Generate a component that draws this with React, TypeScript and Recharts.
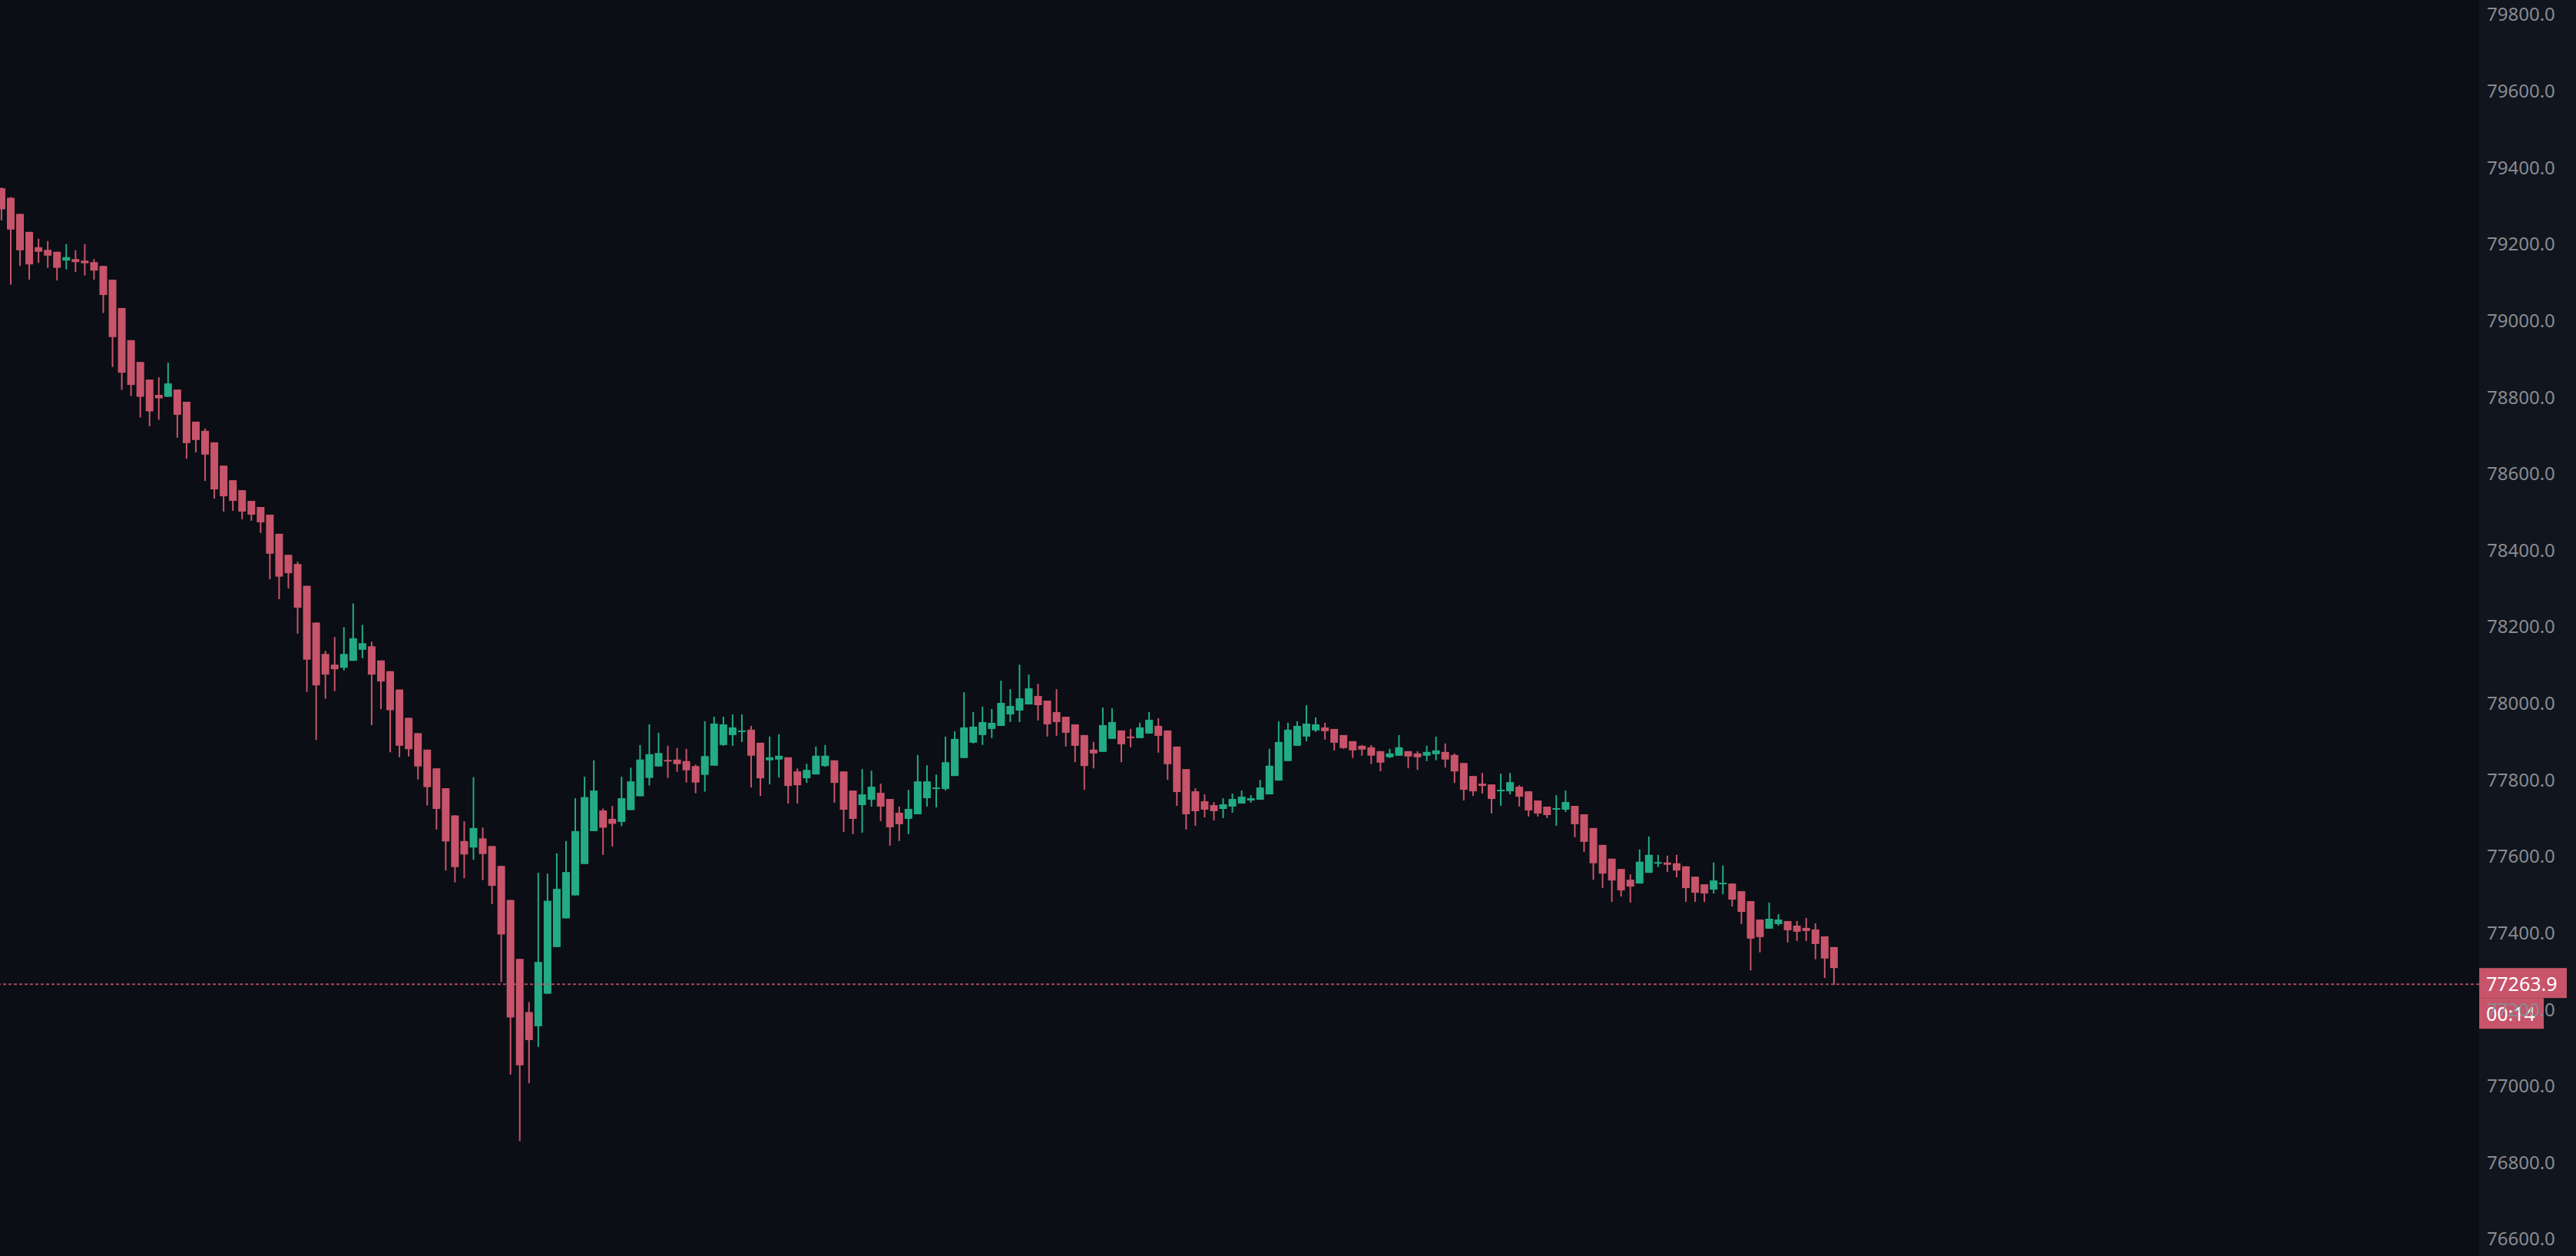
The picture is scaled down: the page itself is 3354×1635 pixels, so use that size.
import React from 'react';
import { ComposedChart, Bar, XAxis, YAxis, ReferenceLine } from 'recharts';

// candle values, index 0 = leftmost candle
const opens = [
  79344, 79319, 79277, 79230, 79190, 79183, 79178, 79155, 79159, 79155,
  79151, 79141, 79105, 79031, 78947, 78890, 78844, 78804, 78799, 78818,
  78786, 78734, 78710, 78680, 78619, 78581, 78555, 78527, 78511, 78491,
  78441, 78386, 78362, 78305, 78209, 78127, 78099, 78091, 78109, 78138,
  78147, 78110, 78082, 78034, 77960, 77920, 77877, 77828, 77776, 77705,
  77638, 77621, 77645, 77625, 77573, 77484, 77330, 77191, 77154, 77239,
  77361, 77436, 77496, 77578, 77664, 77718, 77696, 77688, 77719, 77755,
  77803, 77833, 77850, 77851, 77847, 77834, 77811, 77835, 77889, 77915,
  77925, 77929, 77895, 77849, 77851, 77857, 77820, 77802, 77812, 77834,
  77849, 77820, 77770, 77732, 77746, 77764, 77748, 77712, 77696, 77708,
  77750, 77774, 77774, 77808, 77855, 77895, 77915, 77931, 77939, 77969,
  77979, 77995, 78017, 78005, 77975, 77963, 77943, 77915, 77877, 77871,
  77905, 77927, 77911, 77907, 77919, 77939, 77927, 77885, 77826, 77768,
  77742, 77732, 77722, 77728, 77736, 77744, 77746, 77760, 77796, 77847,
  77887, 77911, 77927, 77935, 77931, 77915, 77899, 77887, 77883, 77873,
  77857, 77861, 77873, 77867, 77861, 77865, 77871, 77863, 77842, 77808,
  77788, 77786, 77768, 77768, 77780, 77768, 77744, 77728, 77720, 77720,
  77730, 77708, 77672, 77628, 77592, 77565, 77537, 77527, 77555, 77579,
  77582, 77580, 77572, 77545, 77525, 77511, 77525, 77527, 77507, 77481,
  77433, 77409, 77421, 77429, 77417, 77411, 77407, 77389, 77361,
];

const highs = [
  79346, 79321, 79277, 79230, 79212, 79206, 79178, 79198, 79182, 79198,
  79159, 79141, 79105, 79031, 78947, 78890, 78844, 78850, 78888, 78818,
  78786, 78734, 78716, 78680, 78619, 78581, 78555, 78527, 78511, 78491,
  78441, 78386, 78368, 78305, 78209, 78135, 78171, 78197, 78259, 78203,
  78159, 78110, 78082, 78034, 77960, 77920, 77877, 77828, 77776, 77705,
  77690, 77805, 77673, 77625, 77573, 77484, 77330, 77217, 77555, 77553,
  77606, 77638, 77750, 77806, 77849, 77723, 77730, 77806, 77830, 77889,
  77943, 77921, 77887, 77881, 77879, 77838, 77951, 77963, 77963, 77969,
  77969, 77939, 77895, 77911, 77917, 77857, 77828, 77840, 77885, 77889,
  77849, 77820, 77770, 77826, 77822, 77788, 77748, 77728, 77772, 77863,
  77836, 77812, 77911, 77925, 78027, 77975, 77989, 77983, 78057, 78035,
  78099, 78073, 78049, 78005, 78035, 77963, 77943, 77915, 77897, 77987,
  77985, 77927, 77931, 77947, 77975, 77959, 77927, 77885, 77826, 77776,
  77760, 77740, 77750, 77762, 77770, 77758, 77798, 77879, 77951, 77947,
  77951, 77993, 77961, 77947, 77931, 77915, 77899, 77889, 77889, 77873,
  77879, 77915, 77873, 77873, 77887, 77911, 77893, 77867, 77842, 77808,
  77816, 77786, 77814, 77816, 77784, 77768, 77744, 77728, 77758, 77770,
  77730, 77708, 77672, 77628, 77592, 77565, 77551, 77616, 77650, 77602,
  77600, 77602, 77572, 77545, 77525, 77582, 77574, 77527, 77507, 77481,
  77433, 77477, 77447, 77429, 77429, 77437, 77423, 77389, 77361,
];

const lows = [
  79260, 79092, 79141, 79105, 79149, 79136, 79103, 79132, 79125, 79116,
  79105, 79018, 78877, 78817, 78801, 78745, 78722, 78739, 78799, 78692,
  78637, 78654, 78579, 78533, 78499, 78501, 78479, 78475, 78443, 78322,
  78270, 78298, 78180, 78028, 77902, 78010, 78030, 78084, 78109, 78116,
  77941, 77983, 77870, 77857, 77859, 77799, 77731, 77668, 77561, 77530,
  77541, 77589, 77536, 77473, 77270, 77028, 76854, 77005, 77100, 77239,
  77361, 77436, 77496, 77578, 77664, 77602, 77624, 77677, 77719, 77755,
  77783, 77833, 77803, 77819, 77791, 77763, 77767, 77835, 77887, 77887,
  77897, 77778, 77756, 77786, 77804, 77736, 77736, 77790, 77812, 77832,
  77738, 77662, 77656, 77660, 77728, 77690, 77626, 77638, 77656, 77708,
  77728, 77726, 77770, 77808, 77855, 77893, 77889, 77907, 77939, 77949,
  77949, 77995, 77953, 77911, 77913, 77885, 77844, 77772, 77828, 77871,
  77905, 77844, 77883, 77907, 77919, 77869, 77798, 77730, 77668, 77678,
  77700, 77692, 77698, 77712, 77736, 77738, 77746, 77760, 77796, 77847,
  77887, 77899, 77923, 77903, 77875, 77879, 77855, 77861, 77839, 77820,
  77855, 77861, 77828, 77824, 77847, 77849, 77830, 77790, 77744, 77756,
  77762, 77710, 77730, 77760, 77728, 77702, 77702, 77698, 77678, 77714,
  77648, 77610, 77537, 77515, 77479, 77493, 77477, 77527, 77555, 77570,
  77557, 77543, 77479, 77479, 77479, 77501, 77499, 77467, 77421, 77300,
  77347, 77409, 77417, 77373, 77377, 77377, 77329, 77280, 77262,
];

const closes = [
  79289, 79236, 79182, 79145, 79178, 79168, 79136, 79164, 79151, 79148,
  79129, 79065, 78955, 78862, 78830, 78799, 78761, 78795, 78834, 78752,
  78678, 78686, 78648, 78557, 78539, 78527, 78499, 78491, 78471, 78389,
  78329, 78338, 78248, 78112, 78045, 78073, 78087, 78127, 78168, 78155,
  78073, 78055, 77980, 77887, 77878, 77833, 77779, 77722, 77637, 77570,
  77603, 77672, 77604, 77521, 77394, 77177, 77052, 77118, 77322, 77482,
  77513, 77557, 77664, 77753, 77770, 77673, 77683, 77750, 77794, 77851,
  77865, 77868, 77847, 77839, 77823, 77791, 77860, 77945, 77943, 77935,
  77927, 77861, 77802, 77857, 77861, 77782, 77784, 77824, 77861, 77861,
  77790, 77720, 77696, 77760, 77780, 77728, 77674, 77682, 77722, 77794,
  77794, 77778, 77844, 77905, 77935, 77937, 77949, 77947, 77999, 77991,
  78011, 78037, 77993, 77943, 77949, 77921, 77887, 77834, 77867, 77941,
  77949, 77891, 77907, 77935, 77955, 77913, 77839, 77766, 77708, 77716,
  77720, 77716, 77734, 77748, 77754, 77750, 77778, 77835, 77897, 77929,
  77939, 77945, 77943, 77925, 77895, 77881, 77875, 77877, 77861, 77843,
  77867, 77883, 77859, 77857, 77871, 77875, 77851, 77820, 77772, 77768,
  77782, 77748, 77772, 77792, 77754, 77718, 77710, 77706, 77724, 77740,
  77682, 77636, 77580, 77553, 77535, 77509, 77519, 77584, 77602, 77583,
  77576, 77561, 77515, 77503, 77501, 77535, 77529, 77485, 77453, 77383,
  77387, 77435, 77433, 77405, 77401, 77403, 77369, 77331, 77306,
];

const priceTicks = [
  76600, 76800, 77000, 77200, 77400, 77600, 77800, 78000, 78200, 78400,
  78600, 78800, 79000, 79200, 79400, 79600, 79800,
];

const lastPrice = 77263.9;
const countdown = '00:14';

const W = 3354;
const H = 1635;
const AXIS_W = 126;
const UP = '#22ab84';
const DOWN = '#c7546a';
const BG = '#0b0e14';
const FONT = '"Noto Sans", "Open Sans", sans-serif';

const data = opens.map((o, i) => ({
  i,
  o,
  h: highs[i],
  l: lows[i],
  c: closes[i],
}));

const Candle = (props: any) => {
  const { x, y, width, height, payload } = props;
  if (!payload || height == null) return null;
  const { o, h, l, c } = payload;
  const k = h === l ? 0 : height / (h - l);
  const py = (p: number) => y + (h - p) * k;
  const cx = x + width / 2;
  const color = c >= o ? UP : DOWN;
  const top = py(Math.max(o, c));
  const bot = py(Math.min(o, c));
  const bh = Math.max(bot - top, 2);
  return (
    <g>
      <rect x={cx - 1} y={y} width={2} height={Math.max(height, 1)} fill={color} />
      <rect x={cx - 5} y={top} width={10} height={bh} fill={color} />
    </g>
  );
};

const PriceTick = (props: any) => {
  const { x, y, payload } = props;
  return (
    <text
      x={x}
      y={y}
      fill="#878b94"
      fontSize={24}
      fontFamily={FONT}
      textAnchor="start"
      dominantBaseline="central"
    >
      {payload.value.toFixed(1)}
    </text>
  );
};

const PriceLabel = (props: any) => {
  const vb = props.viewBox;
  if (!vb) return null;
  const left = vb.x + vb.width;
  const y = vb.y;
  return (
    <g>
      <rect x={left} y={y - 21} width={114} height={39} fill={DOWN} />
      <rect x={left} y={y + 18} width={84} height={40} fill={DOWN} />
      <text x={left + 9} y={y - 1} fill="#ffffff" fontSize={25} fontFamily={FONT} dominantBaseline="central">
        {lastPrice.toFixed(1)}
      </text>
      <text x={left + 9} y={y + 38} fill="#ffffff" fontSize={25} fontFamily={FONT} dominantBaseline="central">
        {countdown}
      </text>
    </g>
  );
};

export default function App() {
  return (
    <div style={{ position: 'fixed', left: 0, top: 0, width: W, height: H, background: BG, overflow: 'hidden' }}>
      <div
        style={{
          position: 'absolute',
          left: W - AXIS_W,
          top: 0,
          width: AXIS_W,
          height: H,
          background: '#11151d',
        }}
      />
      <div style={{ position: 'absolute', left: 0, top: 0 }}>
        <ComposedChart width={W} height={H} data={data} margin={{ top: 0, right: 0, bottom: 0, left: 0 }}>
          <XAxis dataKey="i" type="number" domain={[-0.162, 267.72]} allowDataOverflow hide />
          <YAxis
            orientation="right"
            width={AXIS_W}
            type="number"
            domain={[76553.6, 79836]}
            allowDataOverflow
            ticks={priceTicks}
            interval={0}
            axisLine={false}
            tickLine={false}
            tickSize={0}
            tickMargin={10}
            tick={<PriceTick />}
          />
          <Bar
            dataKey={(d: any) => [d.l, d.h]}
            barSize={10}
            shape={<Candle />}
            isAnimationActive={false}
          />
          <ReferenceLine
            y={lastPrice}
            stroke={DOWN}
            strokeOpacity={0.85}
            strokeWidth={2}
            strokeDasharray="4 3"
            label={<PriceLabel />}
          />
        </ComposedChart>
      </div>
    </div>
  );
}
